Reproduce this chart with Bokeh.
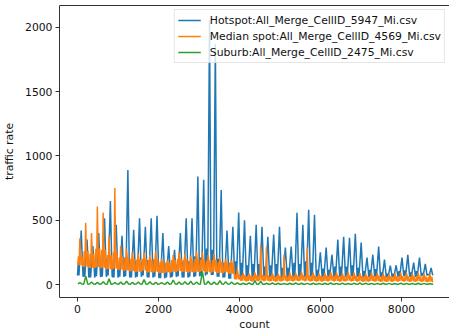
from bokeh.plotting import figure
from bokeh.models import Range1d, SingleIntervalTicker, FixedTicker, LinearAxis
from bokeh.embed import file_html
from bokeh.resources import INLINE

# ---- data (per-day low / band-top / peak values) ----
SAMPLES_PER_DAY = 144
N_SAMPLES = 8784

hot_label = "Hotspot:All_Merge_CellID_5947_Mi.csv"
med_label = "Median spot:All_Merge_CellID_4569_Mi.csv"
sub_label = "Suburb:All_Merge_CellID_2475_Mi.csv"

hot_peak = [420, 350, 300, 400, 515, 650, 465, 380, 890, 425,
            515, 450, 515, 535, 400, 300, 270, 400, 515, 515,
            840, 815, 2060, 1870, 735, 420, 450, 560, 500, 380,
            465, 450, 372, 388, 450, 287, 295, 558, 465, 581,
            543, 250, 287, 232, 349, 372, 364, 395, 326, 209,
            232, 295, 194, 147, 150, 209, 232, 170, 209, 160, 130]
hot_mid = [160, 140, 130, 160, 180, 200, 170, 150, 210, 160,
           180, 170, 190, 190, 150, 130, 120, 160, 180, 180,
           220, 210, 280, 270, 200, 170, 170, 180, 170, 150,
           160, 160, 140, 150, 160, 130, 130, 170, 160, 180,
           170, 115, 125, 115, 140, 140, 140, 150, 130, 105,
           115, 120, 95, 85, 85, 105, 110, 95, 105, 90, 80]
hot_low = [70, 60, 55, 65, 60, 70, 55, 60, 65, 55,
           60, 70, 55, 60, 50, 55, 60, 65, 55, 60,
           65, 70, 80, 75, 60, 55, 45, 50, 55, 60,
           55, 60, 65, 55, 60, 50, 55, 60, 65, 60,
           70, 55, 60, 55, 65, 60, 70, 65, 60, 55,
           60, 65, 60, 55, 60, 65, 70, 60, 65, 70, 75]

med_peak = [360, 480, 400, 607, 560, 380, 750, 300, 280, 250,
            240, 250, 230, 260, 200, 190, 230, 250, 240, 220,
            260, 250, 230, 240, 210, 200, 190, 120, 90, 85,
            95, 310, 290, 90, 85, 232, 95, 90, 100, 287,
            95, 85, 90, 100, 95, 90, 100, 95, 90, 85,
            95, 90, 85, 80, 90, 95, 90, 85, 90, 85, 80]
med_mid = [220, 260, 240, 280, 270, 230, 250, 210, 210, 200,
           195, 200, 190, 200, 175, 170, 190, 200, 195, 185,
           200, 195, 185, 190, 175, 170, 165, 80, 70, 68,
           72, 75, 72, 68, 66, 70, 68, 70, 72, 70,
           68, 66, 68, 72, 70, 66, 70, 68, 66, 64,
           68, 66, 64, 62, 64, 66, 64, 62, 64, 62, 60]
med_low = [150, 140, 130, 135, 130, 120, 125, 115, 110, 105,
           100, 110, 95, 100, 90, 95, 100, 105, 100, 95,
           100, 105, 95, 100, 90, 95, 85, 40, 30, 28,
           30, 32, 30, 28, 26, 30, 28, 30, 32, 30,
           28, 26, 28, 30, 28, 26, 30, 28, 26, 25,
           28, 26, 25, 24, 26, 28, 26, 25, 26, 24, 22]

sub_peak = [15, 65, 20, 18, 22, 44, 15, 20, 25, 18,
            20, 38, 22, 18, 15, 20, 35, 20, 22, 25,
            20, 103, 25, 20, 30, 22, 20, 12, 10, 12,
            30, 25, 10, 12, 10, 8, 10, 12, 10, 9,
            10, 8, 10, 12, 9, 10, 8, 10, 12, 10,
            9, 8, 10, 9, 8, 10, 9, 8, 10, 9, 8]
sub_low = [4, 3, 4, 3, 4, 3, 4, 3, 4, 3,
           4, 3, 4, 3, 4, 3, 4, 3, 4, 3,
           4, 3, 4, 3, 4, 3, 4, 3, 2, 3,
           2, 3, 2, 3, 2, 3, 2, 3, 2, 3,
           2, 3, 2, 3, 2, 3, 2, 3, 2, 3,
           2, 3, 2, 3, 2, 3, 2, 3, 2, 3, 2]

x_tick_interval = 2000
y_tick_interval = 500


def daily_series(parts):
    """parts: list of (sample offset within the day, list of daily values)"""
    xs, ys = [], []
    n_days = len(parts[0][1])
    for d in range(n_days):
        base = d * SAMPLES_PER_DAY
        for off, vals in parts:
            xs.append(base + off)
            ys.append(vals[d])
    xs.append(N_SAMPLES - 1)
    ys.append(parts[0][1][-1])
    return xs, ys


hx, hy = daily_series([(0, hot_low), (18, hot_mid), (36, hot_low), (52, hot_mid),
                       (92, hot_peak), (124, hot_mid), (136, hot_low)])
mx, my = daily_series([(7, med_low), (24, med_mid), (40, med_low), (58, med_peak),
                       (76, med_mid), (92, med_low), (110, med_mid), (126, med_low)])
sx, sy = daily_series([(10, sub_low), (60, sub_peak), (110, sub_low)])

FONT = "DejaVu Sans"
FS = "10.8px"
TXT = "#111111"
SPINE = "#333333"

p = figure(width=449, height=333, output_backend="svg", toolbar_location=None,
           x_range=Range1d(-444, 9185), y_range=Range1d(-101, 2171),
           min_border_left=59, min_border_right=0, min_border_top=5, min_border_bottom=35,
           x_axis_location=None)

p.line(hx, hy, color="#1f77b4", line_width=1.5, legend_label=hot_label)
p.line(mx, my, color="#ff7f0e", line_width=1.5, legend_label=med_label)
p.line(sx, sy, color="#2ca02c", line_width=1.5, legend_label=sub_label)

p.xgrid.visible = False
p.ygrid.visible = False
p.background_fill_color = "white"
p.border_fill_color = "white"
p.outline_line_color = None

xaxis = LinearAxis(ticker=SingleIntervalTicker(interval=x_tick_interval, num_minor_ticks=0),
                   axis_label="count")
p.add_layout(xaxis, "below")
top_axis = LinearAxis(ticker=FixedTicker(ticks=[]), major_tick_line_color=None,
                      minor_tick_line_color=None, major_label_standoff=0,
                      axis_line_color=SPINE)
p.add_layout(top_axis, "above")

p.yaxis.ticker = SingleIntervalTicker(interval=y_tick_interval, num_minor_ticks=0)
p.yaxis.axis_label = "traffic rate"
for ax in (xaxis, p.yaxis[0]):
    ax.axis_line_color = SPINE
    ax.major_tick_line_color = SPINE
    ax.major_tick_out = 4
    ax.major_tick_in = 0
    ax.minor_tick_line_color = None
    ax.major_label_text_font = FONT
    ax.major_label_text_font_size = FS
    ax.major_label_text_color = TXT
    ax.axis_label_text_font = FONT
    ax.axis_label_text_font_size = FS
    ax.axis_label_text_font_style = "normal"
    ax.axis_label_text_color = TXT
xaxis.major_label_standoff = 3
xaxis.axis_label_standoff = 2
p.yaxis.major_label_standoff = 3
p.yaxis.axis_label_standoff = 6

lg = p.legend[0]
lg.location = "top_right"
lg.margin = 4
lg.padding = 3
lg.spacing = 2
lg.glyph_width = 23
lg.glyph_height = 14
lg.label_height = 14
lg.label_standoff = 9
lg.label_text_font = FONT
lg.label_text_font_size = FS
lg.label_text_color = TXT
lg.border_line_color = "#cccccc"
lg.background_fill_alpha = 0.8

open("out.html", "w").write(file_html(p, INLINE))
